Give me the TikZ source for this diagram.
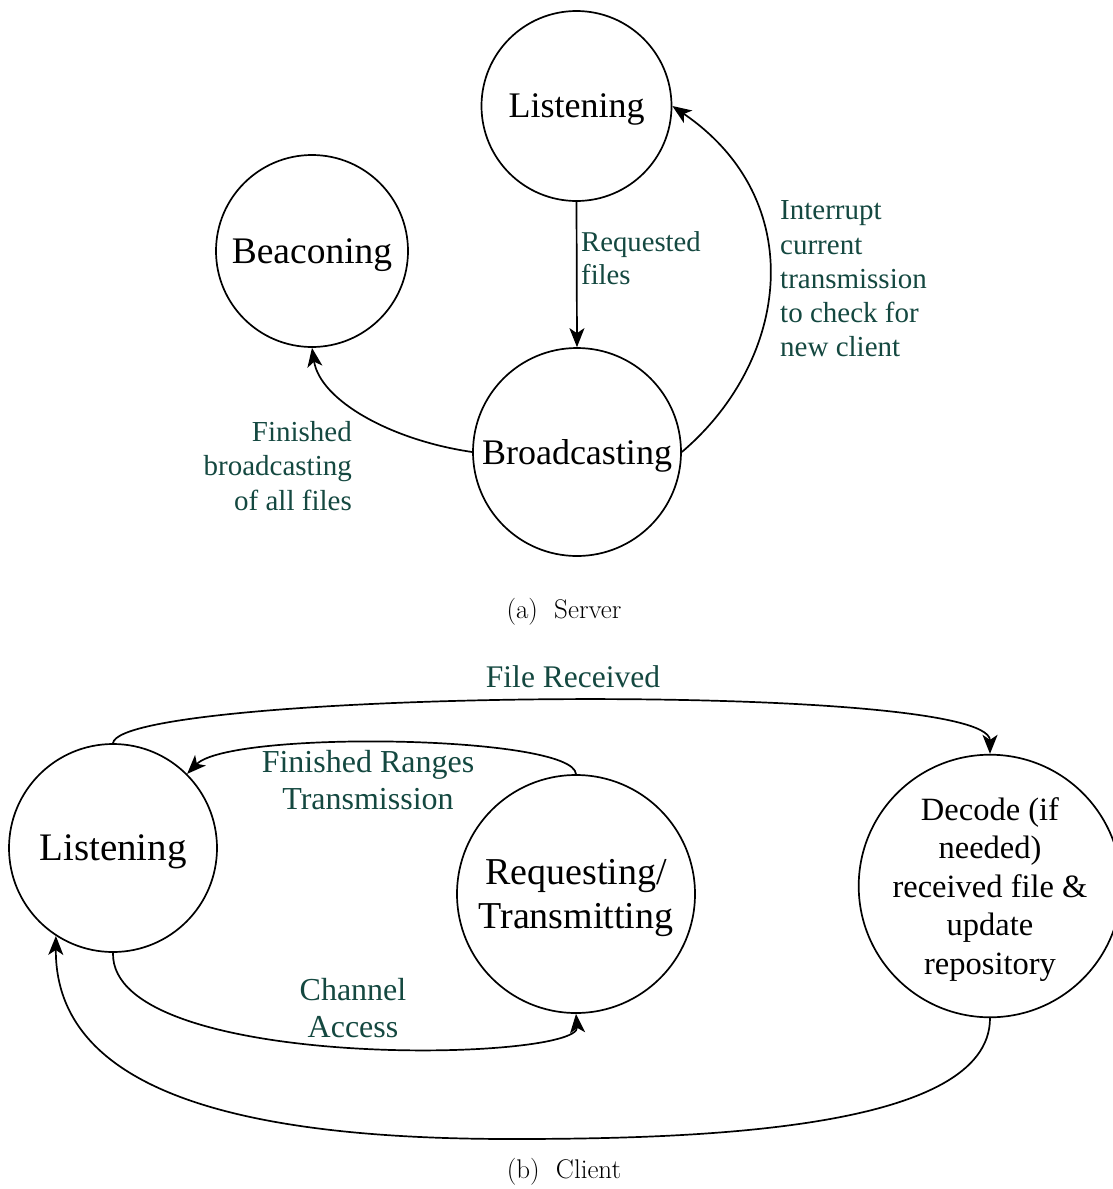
\documentclass[tikz,border=0pt]{standalone}
\usepackage{fontspec}
\newfontfamily\diagfont{Liberation Serif}
\usetikzlibrary{arrows.meta}
\definecolor{lblcol}{RGB}{20,72,64}
\begin{document}
\begin{tikzpicture}[x=1pt,y=-1pt,
  state/.style={draw, circle, line width=1.7pt, inner sep=0pt, align=center, font=\diagfont},
  lbl/.style={text=lblcol, inner sep=0pt, font=\diagfont},
  trans/.style={line width=1.7pt, -{Stealth[length=19pt,width=15pt,inset=5pt]}},
  capt/.style={inner sep=0pt, font=\fontsize{27}{32}\selectfont}]
\useasboundingbox (0,0) rectangle (1113,1189);

% ---------- (a) Server ----------
\node[state, minimum size=190pt, text depth=-2pt, font=\diagfont\fontsize{36}{42}\selectfont] (slisten) at (576.5,106) {Listening};
\node[state, minimum size=192pt, text depth=-4pt, font=\diagfont\fontsize{37.5}{44}\selectfont] (beacon) at (312,251) {Beaconing};
\node[state, minimum size=208pt, text depth=0pt, font=\diagfont\fontsize{36}{42}\selectfont] (bcast) at (577,452) {Broadcasting};

\draw[trans] (slisten.south) -- (bcast.north);
\draw[trans] (bcast.west) .. controls (390,440) and (320,400) .. (beacon.south);
\draw[trans] (bcast.east) .. controls (790,360) and (810,200) .. (slisten.east);

\node[lbl, anchor=west, align=left, font=\diagfont\fontsize{28.7}{33.5}\selectfont] (lreq) at (581,258) {Requested\\files};
\node[lbl, anchor=west, align=left, font=\diagfont\fontsize{29}{34.2}\selectfont] (lint) at (780,279) {Interrupt\\current\\transmission\\to check for\\new client};
\node[lbl, anchor=east, align=right, font=\diagfont\fontsize{29}{34.2}\selectfont] (lfin) at (352,466) {Finished\\broadcasting\\of all files};

\node[capt] (capa) at (564,612) {(a)\hspace{0.6em}Server};

% ---------- (b) Client ----------
\node[state, minimum size=208pt, text depth=0pt, font=\diagfont\fontsize{39}{45}\selectfont] (clisten) at (113,848) {Listening};
\node[state, minimum size=238pt, text depth=-2pt, font=\diagfont\fontsize{38}{44}\selectfont] (reqtx) at (576,894) {Requesting/\\Transmitting};
\node[state, minimum size=252pt, text depth=-12pt, font=\diagfont\fontsize{32.5}{38.5}\selectfont] (decode) at (990,886) {Decode (if\\needed)\\received file \&\\update\\repository};

\draw[trans] (clisten.north) .. controls (120,690) and (990,680) .. (decode.north);
\draw[trans] (reqtx.north) .. controls (574,735) and (230,730) .. (clisten.45);
\draw[trans] (clisten.south) .. controls (110,1072) and (580,1062) .. (reqtx.south);
\draw[trans] (decode.south) .. controls (990,1130) and (700,1139) .. (511,1139)
  .. controls (250,1139) and (55,1095) .. (clisten.-123);

\node[lbl, font=\diagfont\fontsize{31.5}{37}\selectfont] (lfile) at (573,677) {File Received};
\node[lbl, align=center, font=\diagfont\fontsize{32}{37}\selectfont] (lrng) at (368,780) {Finished Ranges\\Transmission};
\node[lbl, align=center, font=\diagfont\fontsize{32}{37}\selectfont] (lchan) at (353,1008) {Channel\\Access};

\node[capt] (capb) at (564,1172) {(b)\hspace{0.6em}Client};
\end{tikzpicture}
\end{document}
